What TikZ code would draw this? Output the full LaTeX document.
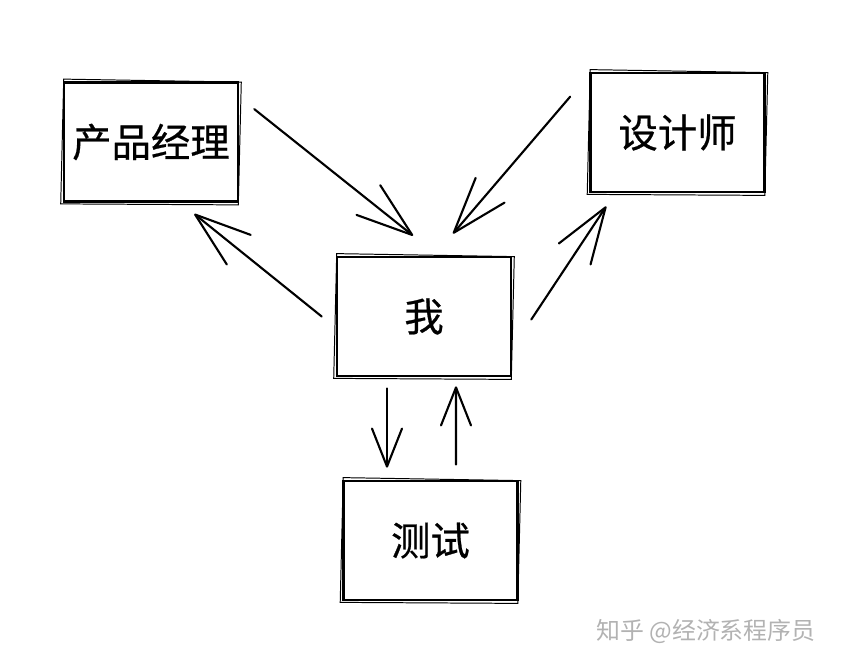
\documentclass[tikz,border=0pt]{standalone}
\usepackage{fontspec}
\usepackage{tikz}
\usetikzlibrary{arrows.meta,positioning,calc}
\newfontfamily\cjk[FakeBold=0.6]{Noto Sans CJK SC}
\newfontfamily\cjkthin{Noto Sans CJK SC}

\begin{document}
\begin{tikzpicture}[
    x=0.025cm, y=-0.025cm,
    role/.style={draw, line width=1.8pt, minimum width=4.35cm, minimum height=2.98cm, inner sep=0pt, font=\cjk\fontsize{28}{30}\selectfont},
    redraw/.style={line width=0.7pt},
    flow/.style={line width=1.5pt, line cap=round, -{Straight Barb[length=1.4cm, width=0.95cm, round]}},
    shortflow/.style={line width=1.5pt, line cap=round, -{Straight Barb[length=0.95cm, width=0.75cm, round]}},
]
\useasboundingbox (0,0) rectangle (842,664);

% Role boxes
\node[role] (pm) at (151,142) {产品经理};
\node[role] (des) at (677.5,132.5) {设计师};
\node[role] (me) at (424,316.5) {我};
\node[role] (test) at (430.5,540.5) {测试};

% second pencil stroke round each box
\foreach \n in {pm,des,me,test}
  \draw[redraw] ([shift={(-2,1)}]\n.south west) -- ([shift={(1,-2)}]\n.north west) -- ([shift={(2,1)}]\n.north east) -- ([shift={(-1,2)}]\n.south east) -- cycle;

% Product manager and designer talk to me
\draw[flow] ([shift={(15,28)}]pm.north east) -- ([shift={(-11,-20)}]me.north);
\draw[flow] ([shift={(-19,25)}]des.north west) -- ([shift={(29,-22)}]me.north);

% I report back to them
\draw[flow] ([shift={(-14,0)}]me.west) -- ([shift={(-45,11)}]pm.south east);
\draw[flow] ([shift={(19,3)}]me.east) -- ([shift={(17,13)}]des.south west);

% Me and test
\draw[shortflow] ([shift={(-37,11)}]me.south) -- ([shift={(-43.5,-12)}]test.north);
\draw[shortflow] ([shift={(25.5,-15)}]test.north) -- ([shift={(32,9)}]me.south);

% Watermark
\node[font=\cjkthin\fontsize{17}{19}\selectfont, text=black!30] (mark) at (706,631) {知乎 @经济系程序员};

\end{tikzpicture}
\end{document}
